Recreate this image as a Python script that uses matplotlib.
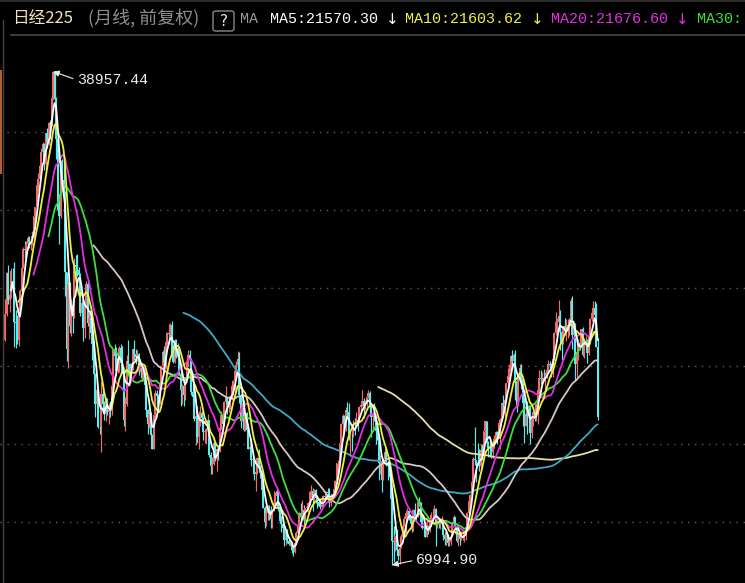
import numpy as np
import pandas as pd
import matplotlib
matplotlib.use("Agg")
import matplotlib.pyplot as plt
from matplotlib.lines import Line2D
from matplotlib.patches import Rectangle, FancyBboxPatch

W, H = 745, 583

# Nikkei 225 monthly bars, 1987-04 .. 2020-03, one line per calendar year
closes = [
    23274, 25929, 24176, 24488, 26029, 26011, 22765, 22687, 21564,
    23622, 24765, 26260, 27435, 27417, 27769, 28168, 27911, 27924, 28334, 29579, 30159,
    31581, 31985, 32839, 33713, 34266, 32949, 34954, 34431, 35637, 35549, 37269, 38916,
    37189, 34592, 29980, 29584, 33131, 31940, 31036, 25978, 20984, 25194, 22454, 23849,
    23293, 26409, 26292, 26111, 25790, 23291, 23961, 22336, 23916, 25222, 22687, 22984,
    22023, 21339, 19346, 17391, 18348, 15952, 15910, 18061, 17399, 16767, 17684, 16925,
    17024, 16953, 18591, 20919, 20552, 19590, 20380, 21027, 20106, 19704, 16408, 17417,
    20229, 19997, 19112, 19725, 20974, 20644, 20449, 20629, 19564, 19990, 19076, 19723,
    18650, 17053, 16140, 16807, 15437, 14517, 16678, 18117, 17913, 17655, 18744, 19868,
    20813, 20125, 21407, 22041, 21956, 22531, 20693, 20167, 21556, 20466, 21020, 19361,
    18330, 18557, 18003, 19151, 20069, 20605, 20331, 18229, 17888, 16459, 16636, 15259,
    16628, 16831, 16527, 15641, 15671, 15830, 16379, 14108, 13406, 13564, 14883, 13842,
    14499, 14368, 15837, 16702, 16112, 17530, 17862, 17437, 17605, 17942, 18558, 18934,
    19540, 19960, 20337, 17974, 16332, 17411, 15727, 16861, 15747, 14539, 14649, 13785,
    13843, 12883, 12999, 13934, 13262, 12969, 11860, 10713, 9774, 10366, 10697, 10542,
    9997, 10587, 11024, 11492, 11763, 10621, 9877, 9619, 9383, 8640, 9215, 8578,
    8339, 8363, 7972, 7831, 8424, 9083, 9563, 10343, 10219, 10559, 10101, 10676,
    10783, 11041, 11715, 11761, 11236, 11858, 11325, 11081, 10823, 10771, 10899, 11488,
    11387, 11740, 11668, 11008, 11276, 11584, 11899, 12413, 13574, 13606, 14872, 16111,
    16649, 16205, 17059, 16906, 15467, 15505, 15456, 16140, 16127, 16399, 16274, 17225,
    17383, 17604, 17287, 17400, 17875, 18138, 17248, 16569, 16785, 16737, 15680, 15307,
    13592, 13603, 12525, 13849, 14338, 13481, 13376, 13072, 11259, 8576, 8512, 8859,
    7994, 7568, 8109, 8828, 9522, 9958, 10356, 10492, 10133, 10034, 9345, 10546,
    10198, 10126, 11089, 11057, 9768, 9382, 9537, 8824, 9369, 9202, 9937, 10228,
    10237, 10624, 9755, 9849, 9693, 9816, 9833, 8955, 8700, 8988, 8434, 8455,
    8803, 9723, 10083, 9521, 8543, 9006, 8695, 8840, 8870, 8928, 9446, 10395,
    11138, 11559, 12398, 13861, 13775, 13677, 13668, 13389, 14456, 14328, 15662, 16291,
    14915, 14841, 14828, 14304, 14632, 15162, 15621, 15425, 16174, 16414, 17460, 17451,
    17674, 18798, 19207, 19520, 20563, 20236, 20585, 18890, 17388, 19083, 19747, 19034,
    17518, 16027, 16759, 16666, 17235, 15576, 16569, 16887, 16450, 17425, 18308, 19114,
    19041, 19119, 18909, 19197, 19651, 20033, 19925, 19646, 20356, 22012, 22725, 22765,
    23098, 22068, 21454, 22468, 22202, 22305, 22554, 22865.15, 24120.04, 21920.46, 22351.06, 20014.77,
    20773.49, 21385.16, 21205.81, 22258.73, 20601.19, 21275.92, 21521.53, 20704.37, 21755.84, 22927.04, 23293.91, 23656.62,
    23205.18, 21142.96, 16552.83,
]

opens = [
    21566, 23274, 25929, 24176, 24488, 26029, 26011, 22765, 22687,
    21564, 23622, 24765, 26260, 27435, 27417, 27769, 28168, 27911, 27924, 28334, 29579,
    30159, 31581, 31985, 32839, 33713, 34266, 32949, 34954, 34431, 35637, 35549, 37269,
    38916, 37189, 34592, 29980, 29584, 33131, 31940, 31036, 25978, 20984, 25194, 22454,
    23849, 23293, 26409, 26292, 26111, 25790, 23291, 23961, 22336, 23916, 25222, 22687,
    22984, 22023, 21339, 19346, 17391, 18348, 15952, 15910, 18061, 17399, 16767, 17684,
    16925, 17024, 16953, 18591, 20919, 20552, 19590, 20380, 21027, 20106, 19704, 16408,
    17417, 20229, 19997, 19112, 19725, 20974, 20644, 20449, 20629, 19564, 19990, 19076,
    19723, 18650, 17053, 16140, 16807, 15437, 14517, 16678, 18117, 17913, 17655, 18744,
    19868, 20813, 20125, 21407, 22041, 21956, 22531, 20693, 20167, 21556, 20466, 21020,
    19361, 18330, 18557, 18003, 19151, 20069, 20605, 20331, 18229, 17888, 16459, 16636,
    15259, 16628, 16831, 16527, 15641, 15671, 15830, 16379, 14108, 13406, 13564, 14883,
    13842, 14499, 14368, 15837, 16702, 16112, 17530, 17862, 17437, 17605, 17942, 18558,
    18934, 19540, 19960, 20337, 17974, 16332, 17411, 15727, 16861, 15747, 14539, 14649,
    13785, 13843, 12883, 12999, 13934, 13262, 12969, 11860, 10713, 9774, 10366, 10697,
    10542, 9997, 10587, 11024, 11492, 11763, 10621, 9877, 9619, 9383, 8640, 9215,
    8578, 8339, 8363, 7972, 7831, 8424, 9083, 9563, 10343, 10219, 10559, 10101,
    10676, 10783, 11041, 11715, 11761, 11236, 11858, 11325, 11081, 10823, 10771, 10899,
    11488, 11387, 11740, 11668, 11008, 11276, 11584, 11899, 12413, 13574, 13606, 14872,
    16111, 16649, 16205, 17059, 16906, 15467, 15505, 15456, 16140, 16127, 16399, 16274,
    17225, 17383, 17604, 17287, 17400, 17875, 18138, 17248, 16569, 16785, 16737, 15680,
    15307, 13592, 13603, 12525, 13849, 14338, 13481, 13376, 13072, 11259, 8576, 8512,
    8859, 7994, 7568, 8109, 8828, 9522, 9958, 10356, 10492, 10133, 10034, 9345,
    10546, 10198, 10126, 11089, 11057, 9768, 9382, 9537, 8824, 9369, 9202, 9937,
    10228, 10237, 10624, 9755, 9849, 9693, 9816, 9833, 8955, 8700, 8988, 8434,
    8455, 8803, 9723, 10083, 9521, 8543, 9006, 8695, 8840, 8870, 8928, 9446,
    10395, 11138, 11559, 12398, 13861, 13775, 13677, 13668, 13389, 14456, 14328, 15662,
    16291, 14915, 14841, 14828, 14304, 14632, 15162, 15621, 15425, 16174, 16414, 17460,
    17451, 17674, 18798, 19207, 19520, 20563, 20236, 20585, 18890, 17388, 19083, 19747,
    19034, 17518, 16027, 16759, 16666, 17235, 15576, 16569, 16887, 16450, 17425, 18308,
    19114, 19041, 19119, 18909, 19197, 19651, 20033, 19925, 19646, 20356, 22012, 22725,
    22765, 23098, 22068, 21454, 22468, 22202, 22305, 22554, 22865, 24120, 21920, 22351,
    20015, 20773, 21385, 21206, 22259, 20601, 21276, 21522, 20704, 21756, 22927, 23294,
    23657, 23205, 21143,
]

highs = [
    24200, 26000, 26400, 25300, 26200, 26250, 26646, 23500, 23200,
    23800, 24900, 26400, 27600, 28000, 28000, 28300, 28300, 28100, 28600, 29600, 30200,
    31800, 32400, 33100, 34000, 34400, 34300, 35000, 35300, 35700, 35800, 37300, 38957.44,
    38920, 37300, 34600, 31000, 33200, 33300, 33200, 31200, 26000, 25300, 25300, 24200,
    24100, 26900, 27100, 27146, 26300, 25900, 24200, 24100, 24200, 25400, 25300, 23400,
    23800, 22400, 21500, 19400, 19000, 18400, 16600, 18900, 18700, 17600, 17900, 17800,
    17500, 17600, 18700, 21000, 21300, 21100, 20600, 21200, 21300, 21148, 19800, 17900,
    20600, 21552, 20100, 20100, 21000, 21573, 21000, 20900, 20700, 20100, 20100, 19900,
    19800, 18800, 17100, 16900, 16900, 15500, 16700, 18300, 18300, 18100, 18800, 19900,
    20900, 21200, 21500, 22100, 22600, 22666, 22800, 21300, 21600, 21600, 21400, 21100,
    19500, 18700, 18800, 19200, 20300, 20910, 20900, 20400, 18700, 18100, 17000, 17300,
    17000, 17300, 17000, 16600, 15800, 15900, 16800, 16400, 14300, 14000, 15300, 14900,
    14600, 14500, 16400, 17000, 16800, 17600, 18600, 17900, 17800, 18000, 18700, 19000,
    19800, 20200, 20833, 20800, 18100, 17500, 17700, 16900, 16900, 15800, 15200, 14800,
    14200, 13900, 13300, 14000, 14500, 13500, 13000, 12100, 10800, 10900, 10900, 10900,
    10800, 10600, 11800, 11700, 11979, 11800, 10700, 10200, 9900, 9500, 9300, 9300,
    8800, 8600, 8500, 8200, 8500, 9200, 10000, 10400, 11000, 11200, 10900, 10700,
    11000, 11100, 11800, 12195, 12000, 11900, 11900, 11400, 11300, 11200, 11100, 11500,
    11600, 11800, 12000, 12000, 11300, 11600, 11900, 12500, 13600, 13800, 14900, 16200,
    16800, 16700, 17200, 17563, 17500, 15700, 15700, 16400, 16500, 16900, 16500, 17300,
    17600, 18300, 17800, 17700, 17900, 18300, 18262, 17500, 16900, 17500, 16800, 15800,
    15320, 14100, 13800, 13900, 14600, 14500, 13700, 13400, 13100, 11400, 9500, 8900,
    9300, 8000, 8900, 9000, 9600, 10170, 10400, 10700, 10600, 10300, 10000, 10600,
    10982, 10300, 11100, 11408, 11100, 10200, 9700, 9600, 9700, 9600, 10100, 10400,
    10600, 10900, 10700, 9900, 10000, 9900, 10150, 9900, 9100, 9100, 9000, 8700,
    8900, 9800, 10255, 10100, 9600, 9100, 9100, 9200, 9300, 9100, 9500, 10400,
    11200, 11600, 12650, 14000, 15942, 13800, 14900, 14500, 14800, 14800, 15700, 16320,
    16320, 15000, 15300, 14900, 14700, 15400, 15700, 15700, 16400, 16500, 17500, 18030,
    17800, 18800, 19778, 20006, 20600, 20952, 20700, 20900, 18900, 19100, 20012, 20000,
    19100, 17900, 17300, 17600, 17300, 17300, 16900, 16900, 17200, 17500, 18600, 19600,
    19600, 19500, 19700, 19500, 19900, 20300, 20200, 20100, 20500, 22100, 23383, 23000,
    24129, 23500, 22500, 22500, 23000, 22900, 22900, 23000, 24300, 24448, 22700, 22700,
    20800, 21600, 21800, 22300, 22400, 21500, 21800, 21600, 22100, 23000, 23600, 24091,
    24115, 23995, 21719,
]

lows = [
    21500, 23100, 23900, 23400, 24300, 24700, 21100, 21036, 21300,
    21200, 23400, 24700, 26200, 26900, 27000, 27400, 27500, 27400, 27700, 28200, 29300,
    29900, 31200, 31600, 32600, 33500, 32600, 32600, 34000, 34200, 34600, 35400, 37100,
    36800, 33300, 29800, 27800, 29500, 31300, 30800, 24400, 20200, 19781, 22000, 21800,
    22000, 23000, 25400, 25700, 25000, 23100, 23000, 21500, 21700, 23800, 22500, 21600,
    21600, 20300, 19200, 16600, 17300, 15900, 15500, 14309, 17000, 16400, 16300, 16700,
    16100, 16600, 16700, 18500, 20200, 19300, 19400, 19500, 19300, 19400, 16000, 15670,
    17300, 19500, 18900, 18900, 19600, 20300, 20000, 20200, 19300, 19500, 18900, 18900,
    17700, 16600, 15500, 15900, 15400, 14500, 14485, 16600, 17200, 17200, 17400, 18700,
    19700, 19800, 19700, 21300, 21300, 21600, 20300, 20100, 20100, 20400, 20200, 19300,
    17300, 17400, 17300, 17700, 19100, 19900, 19500, 18000, 17300, 16300, 14775, 14900,
    14500, 16000, 15800, 15100, 14900, 14800, 15700, 14000, 12900, 12879, 13500, 13700,
    13100, 13800, 14300, 15800, 15900, 16000, 17200, 16800, 16900, 17100, 17700, 18000,
    18200, 19100, 19500, 17500, 15900, 16300, 15700, 15700, 15600, 14500, 14200, 13400,
    13000, 12500, 11800, 12900, 13100, 12600, 11600, 10700, 9382, 9500, 9900, 9900,
    9400, 9420, 10500, 10900, 11300, 10500, 9700, 9100, 9000, 8200, 8300, 8400,
    8300, 8200, 7800, 7603, 7800, 8300, 9000, 9400, 10000, 10100, 9600, 9900,
    10500, 10400, 10900, 11400, 10500, 11100, 11000, 10700, 10800, 10600, 10600, 10800,
    11200, 11300, 11500, 10770, 10800, 11200, 11400, 11700, 12300, 12900, 13400, 14700,
    15100, 15600, 15700, 16500, 15100, 14045, 14400, 15300, 15400, 15900, 15700, 16200,
    16900, 17300, 16500, 17100, 17300, 17800, 17200, 15270, 15800, 16300, 14800, 15100,
    12500, 12900, 11691, 12500, 13700, 13400, 12500, 12700, 11000, 6994.90, 7200, 7900,
    7800, 7300, 7054, 8100, 8700, 9500, 9050, 10100, 9900, 9700, 9100, 9200,
    10000, 9800, 10100, 10800, 9500, 9300, 9100, 8800, 8800, 9000, 9100, 9900,
    10100, 10200, 8227, 9400, 9400, 9300, 9600, 8600, 8300, 8300, 8200, 8200,
    8300, 8800, 9700, 9400, 8500, 8200, 8300, 8600, 8600, 8500, 8600, 9400,
    10300, 10900, 11700, 12000, 13500, 12400, 13600, 13100, 13200, 13800, 14000, 15100,
    14600, 13995, 14000, 13900, 13900, 14600, 15000, 14800, 15300, 14529, 16400, 16800,
    16600, 17600, 18600, 19000, 19400, 19900, 19100, 17700, 16901, 17300, 19000, 18400,
    16000, 14866, 16000, 15500, 16200, 14864, 15200, 16000, 16300, 16300, 16100, 18100,
    18700, 18800, 18900, 18200, 19100, 19500, 19800, 19200, 19200, 20300, 21900, 22100,
    22700, 20950, 20300, 21300, 21900, 21500, 21700, 21800, 22600, 20971, 21200, 18949,
    19200, 20300, 20900, 21200, 20500, 20400, 21000, 20100, 20600, 21300, 22800, 23000,
    22950, 21082, 16358,
]

MA_WINDOWS = [5, 10, 20, 30, 60, 120, 250]
MA_COLORS = {
    5: "#ffffff",
    10: "#f0f040",
    20: "#e030e0",
    30: "#3ce03c",
    60: "#d6c6c6",
    120: "#3fa9c6",
    250: "#e6dea6",
}
GRID_LEVELS = [35070, 30010, 24950, 19890, 14830, 9770]

UP_COLOR = "#f46a6a"
DOWN_COLOR = "#54f0f0"
BG = "#000000"

# pixel calibration of the reference (x: month index, y: index value)
X0_PX, DX_PX = 5.0, 1.5
Y_REF_VAL, Y_REF_PX, PX_PER_UNIT = 38957.44, 71.5, 0.01544
AX_TOP_PX = 36


def value_at(py):
    return Y_REF_VAL - (py - Y_REF_PX) / PX_PER_UNIT


def fxy(px, py):
    return px / W, 1 - py / H


CJK = ["Noto Sans CJK SC", "DejaVu Sans"]
MONO = ["Liberation Mono", "DejaVu Sans Mono"]

o = np.asarray(opens, dtype=float)
h = np.asarray(highs, dtype=float)
l = np.asarray(lows, dtype=float)
c = np.asarray(closes, dtype=float)
x = np.arange(len(c))

fig = plt.figure(figsize=(W / 100, H / 100), dpi=100, facecolor=BG)
ax = fig.add_axes([0, 0, 1, (H - AX_TOP_PX) / H])
ax.set_facecolor(BG)
ax.set_xlim(-X0_PX / DX_PX, (W - X0_PX) / DX_PX)
ax.set_ylim(value_at(H), value_at(AX_TOP_PX))
ax.set_axis_off()

for lvl in GRID_LEVELS:
    ax.axhline(lvl, color="#5c5c5c", lw=1.0, ls=(0, (1, 4)), zorder=0)

# candles
up = c >= o
colors = np.where(up, UP_COLOR, DOWN_COLOR)
ax.vlines(x, l, h, colors=colors, lw=0.85, zorder=2)
ax.bar(x, np.abs(c - o), bottom=np.minimum(o, c), width=0.85, color=colors,
       linewidth=0, zorder=2)

# moving averages
ma = {}
s = pd.Series(c)
for n in MA_WINDOWS[::-1]:
    ma[n] = s.rolling(n).mean()
    ax.plot(x, ma[n], color=MA_COLORS[n], lw=1.3, zorder=3)

# extreme labels
hi_i = int(np.argmax(h))
lo_i = int(np.argmin(l))
ax.annotate(f"{h[hi_i]:.2f}", xy=(hi_i, h[hi_i]), xytext=(77, H - 80),
            textcoords="figure pixels", color="#ececec", fontsize=10.7,
            family=MONO, va="center", ha="left",
            arrowprops=dict(arrowstyle="-|>", color="#ececec", lw=0.8,
                            mutation_scale=9, shrinkA=1, shrinkB=0,
                            relpos=(0, 0.5)), zorder=5)
ax.annotate(f"{l[lo_i]:.2f}", xy=(lo_i, l[lo_i]), xytext=(416, H - 560),
            textcoords="figure pixels", color="#ececec", fontsize=10.7,
            family=MONO, va="center", ha="left",
            arrowprops=dict(arrowstyle="-|>", color="#ececec", lw=0.8,
                            mutation_scale=9, shrinkA=1, shrinkB=0,
                            relpos=(0, 0.5)), zorder=5)

# frame pieces
fig.add_artist(Line2D([11 / W, 1], [1 - 35 / H] * 2, color="#4a4a4a", lw=1.2))
fig.add_artist(Line2D([3 / W] * 2, [0, 1 - 20 / H], color="#444444", lw=1.0))
fig.add_artist(Rectangle(fxy(0, 174), 2 / W, 104 / H, transform=fig.transFigure,
                         color="#b4622a", lw=0))
fig.add_artist(Rectangle(fxy(0, 2), 1, 2 / H, transform=fig.transFigure,
                         color="#2c2c2c", lw=0))

# header
ty = 19
fig.text(*fxy(12, ty), "日经225", color="#efe4b2", fontsize=12, family=CJK, va="center")
fig.text(*fxy(88, ty), "(月线, 前复权)", color="#8e8e8e", fontsize=13, family=CJK, va="center")
fig.add_artist(FancyBboxPatch(fxy(213, 31), 21 / W, 20 / H, transform=fig.transFigure,
                              boxstyle="round,pad=0,rounding_size=0.004",
                              fill=False, edgecolor="#8a8a8a", lw=1.0))
fig.text(*fxy(223.5, 21), "?", color="#e6e6e6", fontsize=11, family="DejaVu Sans",
         va="center", ha="center")
fig.text(*fxy(240, ty), "MA", color="#9a9a9a", fontsize=10.8, family=MONO, va="center")

header = [
    (270, f"MA5:{ma[5].iloc[-1]:.2f}", MA_COLORS[5], 386),
    (405, f"MA10:{ma[10].iloc[-1]:.2f}", MA_COLORS[10], 531),
    (551, f"MA20:{ma[20].iloc[-1]:.2f}", MA_COLORS[20], 676),
]
for px, label, col, arrow_px in header:
    fig.text(*fxy(px, ty), label, color=col, fontsize=10.8, family=MONO, va="center")
    fig.text(*fxy(arrow_px, ty), "↓", color=col, fontsize=11, family="DejaVu Sans", va="center")
fig.text(*fxy(697, ty), "MA30:", color=MA_COLORS[30], fontsize=10.8, family=MONO, va="center")

fig.savefig("out.png", dpi=100, facecolor=BG)
